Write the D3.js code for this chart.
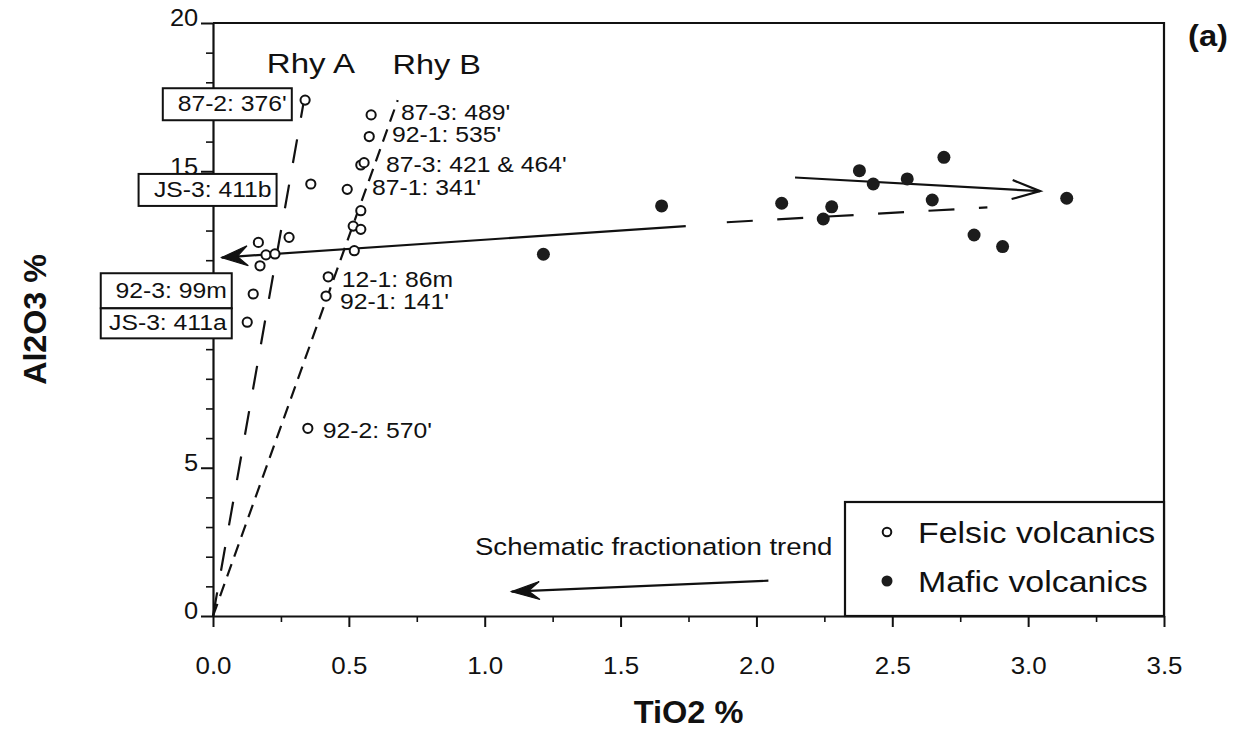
<!DOCTYPE html>
<html>
<head>
<meta charset="utf-8">
<script src="https://cdn.jsdelivr.net/npm/d3@7"></script>
<style>
  body { margin: 0; background: #fff; }
  svg text { font-family: "Liberation Sans", Arial, Helvetica, sans-serif; fill: #111; }
</style>
</head>
<body>
<svg id="chart" width="1237" height="736"></svg>
<script>
// Felsic volcanics (open circles)
const felsicTiO2  = [0.339, 0.582, 0.575, 0.544, 0.556, 0.360, 0.494, 0.544, 0.516, 0.544, 0.280,
                     0.520, 0.167, 0.195, 0.228, 0.173, 0.424, 0.416, 0.148, 0.126, 0.349];
const felsicAl2O3 = [17.40, 16.90, 16.17, 15.21, 15.29, 14.57, 14.39, 13.67, 13.15, 13.04, 12.77,
                     12.32, 12.60, 12.18, 12.21, 11.81, 11.44, 10.79, 10.86, 9.91, 6.33];

// Mafic volcanics (filled circles)
const maficTiO2  = [1.216, 1.651, 2.093, 2.277, 2.246, 2.379, 2.430, 2.555, 2.690, 2.647, 2.801, 2.906, 3.142];
const maficAl2O3 = [12.20, 13.83, 13.92, 13.80, 13.39, 15.02, 14.57, 14.74, 15.47, 14.03, 12.85, 12.46, 14.09];

// axis ticks ("10" is hidden behind the sample boxes in the original)
const xTicks = [0, 0.5, 1.0, 1.5, 2.0, 2.5, 3.0, 3.5];
const yTicks = [0, 5, 10, 15, 20];
const yTickLabels = ["0", "5", "", "15", "20"];

// sample labels (text + anchor in data units)
const sampleLabels     = ["87-3: 489'", "92-1: 535'", "87-3: 421 & 464'", "87-1: 341'", "12-1: 86m", "92-1: 141'", "92-2: 570'"];
const sampleLabelTiO2  = [0.692, 0.659, 0.637, 0.585, 0.474, 0.467, 0.404];
const sampleLabelAl2O3 = [16.73, 15.99, 14.97, 14.20, 11.10, 10.35, 5.99];

// boxed labels (right edge / centre of box in data units)
const boxedLabels     = ["87-2: 376'", "JS-3: 411b", "92-3: 99m", "JS-3: 411a"];
const boxedLabelTiO2  = [0.290, 0.234, 0.069, 0.069];
const boxedLabelAl2O3 = [17.26, 14.37, 10.97, 9.87];

// trend lines
const rhyA = [[0, 0], [0.335, 17.4]];
const rhyB = [[0, 0], [0.68, 17.4]];
const maficTrendSolid  = [[0.032, 12.09], [1.740, 13.15]];
const maficTrendDashed = [[1.891, 13.28], [2.850, 13.78]];
const maficArrow       = [[2.142, 14.79], [3.044, 14.33]];
const schematicArrow   = [[2.044, 1.19], [1.099, 0.82]];

// free text annotations
const noteText  = ["Rhy A", "Rhy B", "Schematic fractionation trend"];
const noteTiO2  = [0.198, 0.661, 0.964];
const noteAl2O3 = [18.32, 18.28, 2.06];

const margin = {top: 23, right: 73, bottom: 120, left: 213};
const width = 1237, height = 736;
const ink = "#111";

const svg = d3.select("#chart");

const x = d3.scaleLinear().domain([0, 3.5]).range([margin.left, width - margin.right]);
const y = d3.scaleLinear().domain([0, 20]).range([height - margin.bottom, margin.top]);

// text with a slight horizontal stretch, the scanned font is wider than Arial
function stretchedText(parent, px, py, str, size, sx, anchor, weight) {
    return parent.append("text")
        .attr("transform", `translate(${px},${py}) scale(${sx},1)`)
        .attr("text-anchor", anchor || "start")
        .attr("font-size", size)
        .attr("font-weight", weight || "normal")
        .text(str);
}

// minor ticks first
svg.append("g")
    .attr("transform", `translate(0,${y(0)})`)
    .call(d3.axisBottom(x).tickValues(d3.range(0.25, 3.5, 0.5)).tickSize(6).tickFormat(""))
    .call(g => g.select(".domain").remove())
    .call(g => g.selectAll("line").attr("stroke", ink).attr("stroke-width", 1.6));

svg.append("g")
    .attr("transform", `translate(${x(0)},0)`)
    .call(d3.axisLeft(y).tickValues(d3.range(1, 20).filter(d => d % 5 !== 0)).tickSize(7).tickFormat(""))
    .call(g => g.select(".domain").remove())
    .call(g => g.selectAll("line").attr("stroke", ink).attr("stroke-width", 1.6));

// major axes
const xAxis = svg.append("g")
    .attr("transform", `translate(0,${y(0)})`)
    .call(d3.axisBottom(x).tickValues(xTicks).tickFormat(d3.format(".1f")).tickSize(11).tickSizeOuter(0).tickPadding(30));

const yAxis = svg.append("g")
    .attr("transform", `translate(${x(0)},0)`)
    .call(d3.axisLeft(y).tickValues(yTicks).tickFormat((d, i) => yTickLabels[i]).tickSize(12).tickSizeOuter(0).tickPadding(2));

[xAxis, yAxis].forEach(g => {
    g.select(".domain").attr("stroke", ink).attr("stroke-width", 2.2);
    g.selectAll(".tick line").attr("stroke", ink).attr("stroke-width", 2);
    g.selectAll(".tick text")
        .attr("font-size", 24)
        .attr("fill", ink)
        .attr("font-family", "Liberation Sans, Arial, sans-serif");
});
xAxis.selectAll(".tick text").attr("transform", "scale(1.08,1)");
yAxis.selectAll(".tick text").attr("transform", "scale(1.06,1)").attr("dy", "0.12em");

// frame top + right
svg.append("path")
    .attr("d", `M${x(0)},${y(20)}H${x(3.5)}V${y(0)}`)
    .attr("fill", "none")
    .attr("stroke", ink)
    .attr("stroke-width", 2.2);

// axis titles
stretchedText(svg, (x(0) + x(3.5)) / 2, 723, "TiO2 %", 31, 1.05, "middle", "bold");
svg.append("text")
    .attr("transform", `translate(35,${(y(0) + y(20)) / 2}) rotate(-90) scale(1.04,1)`)
    .attr("text-anchor", "middle")
    .attr("dy", "0.36em")
    .attr("font-size", 31)
    .attr("font-weight", "bold")
    .text("Al2O3 %");

stretchedText(svg, x(3.5) + 24, 46, "(a)", 30, 1.09, "start", "bold");

const line = d3.line().x(d => x(d[0])).y(d => y(d[1]));

// rhyolite trends
svg.append("path").attr("d", line(rhyA))
    .attr("fill", "none").attr("stroke", ink).attr("stroke-width", 2.2)
    .attr("stroke-dasharray", "24,22");
svg.append("path").attr("d", line(rhyB))
    .attr("fill", "none").attr("stroke", ink).attr("stroke-width", 2.2)
    .attr("stroke-dasharray", "13,8");

// mafic trend
svg.append("path").attr("d", line(maficTrendSolid))
    .attr("fill", "none").attr("stroke", ink).attr("stroke-width", 2.2);
svg.append("path").attr("d", line(maficTrendDashed))
    .attr("fill", "none").attr("stroke", ink).attr("stroke-width", 2.2)
    .attr("stroke-dasharray", "26,24.5");
svg.append("path").attr("d", line(maficArrow))
    .attr("fill", "none").attr("stroke", ink).attr("stroke-width", 2.2);
svg.append("path").attr("d", line(schematicArrow))
    .attr("fill", "none").attr("stroke", ink).attr("stroke-width", 2.2);

/**
 * Arrow head at the end point of a segment
 * @param {Array} seg: [[x0,y0],[x1,y1]] in data units, head at the second point
 * @param {boolean} open: open V or filled stealth shape
 */
function arrowHead(seg, len, half, open) {
    const x0 = x(seg[0][0]), y0 = y(seg[0][1]);
    const x1 = x(seg[1][0]), y1 = y(seg[1][1]);
    const L = Math.hypot(x1 - x0, y1 - y0);
    const ux = (x1 - x0) / L, uy = (y1 - y0) / L;
    const bx = x1 - ux * len, by = y1 - uy * len;
    const b1 = [bx - uy * half, by + ux * half];
    const b2 = [bx + uy * half, by - ux * half];
    const inner = [x1 - ux * len * 0.6, y1 - uy * len * 0.6];
    if (open) {
        svg.append("path")
            .attr("d", `M${b1}L${x1},${y1}L${b2}`)
            .attr("fill", "none").attr("stroke", ink).attr("stroke-width", 2.2);
    } else {
        svg.append("path")
            .attr("d", `M${x1},${y1}L${b1}L${inner}L${b2}Z`)
            .attr("fill", ink).attr("stroke", ink).attr("stroke-width", 1.2)
            .attr("stroke-linejoin", "miter");
    }
}
arrowHead([maficTrendSolid[1], maficTrendSolid[0]], 26, 10, false);
arrowHead(maficArrow, 28, 9.5, true);
arrowHead(schematicArrow, 28, 9, false);

// points
svg.append("g").selectAll("circle")
    .data(maficTiO2.map((d, i) => [d, maficAl2O3[i]]))
    .join("circle")
    .attr("cx", d => x(d[0]))
    .attr("cy", d => y(d[1]))
    .attr("r", 6.5)
    .attr("fill", "#1c1c1c");

svg.append("g").selectAll("circle")
    .data(felsicTiO2.map((d, i) => [d, felsicAl2O3[i]]))
    .join("circle")
    .attr("cx", d => x(d[0]))
    .attr("cy", d => y(d[1]))
    .attr("r", 4.6)
    .attr("fill", "#fff")
    .attr("stroke", ink)
    .attr("stroke-width", 2);

// sample labels
sampleLabels.forEach((t, i) => {
    stretchedText(svg, x(sampleLabelTiO2[i]), y(sampleLabelAl2O3[i]), t, 21.5, 1.15);
});

// annotations
stretchedText(svg, x(noteTiO2[0]), y(noteAl2O3[0]), noteText[0], 28, 1.18);
stretchedText(svg, x(noteTiO2[1]), y(noteAl2O3[1]), noteText[1], 28, 1.16);
stretchedText(svg, x(noteTiO2[2]), y(noteAl2O3[2]), noteText[2], 24, 1.15);

// boxed labels, drawn on top of the y axis
const boxW = [129, 138, 131, 131];
const boxH = [32, 32, 35, 30];
boxedLabels.forEach((t, i) => {
    const right = x(boxedLabelTiO2[i]);
    const cy = y(boxedLabelAl2O3[i]);
    svg.append("rect")
        .attr("x", right - boxW[i])
        .attr("y", cy - boxH[i] / 2)
        .attr("width", boxW[i])
        .attr("height", boxH[i])
        .attr("fill", "#fff")
        .attr("stroke", ink)
        .attr("stroke-width", 2);
    stretchedText(svg, right - 5, cy + 7, t, 21.5, 1.15, "end");
});

// legend
const legend = svg.append("g");
legend.append("rect")
    .attr("x", 845).attr("y", 502)
    .attr("width", x(3.5) - 845).attr("height", y(0) - 502)
    .attr("fill", "#fff").attr("stroke", ink).attr("stroke-width", 2.2);
legend.append("circle")
    .attr("cx", 887).attr("cy", 532).attr("r", 4.3)
    .attr("fill", "#fff").attr("stroke", ink).attr("stroke-width", 2);
legend.append("circle")
    .attr("cx", 887).attr("cy", 581).attr("r", 5.5)
    .attr("fill", "#1c1c1c");
stretchedText(legend, 918, 543, "Felsic volcanics", 30, 1.13);
stretchedText(legend, 918, 592, "Mafic volcanics", 30, 1.13);
</script>
</body>
</html>
